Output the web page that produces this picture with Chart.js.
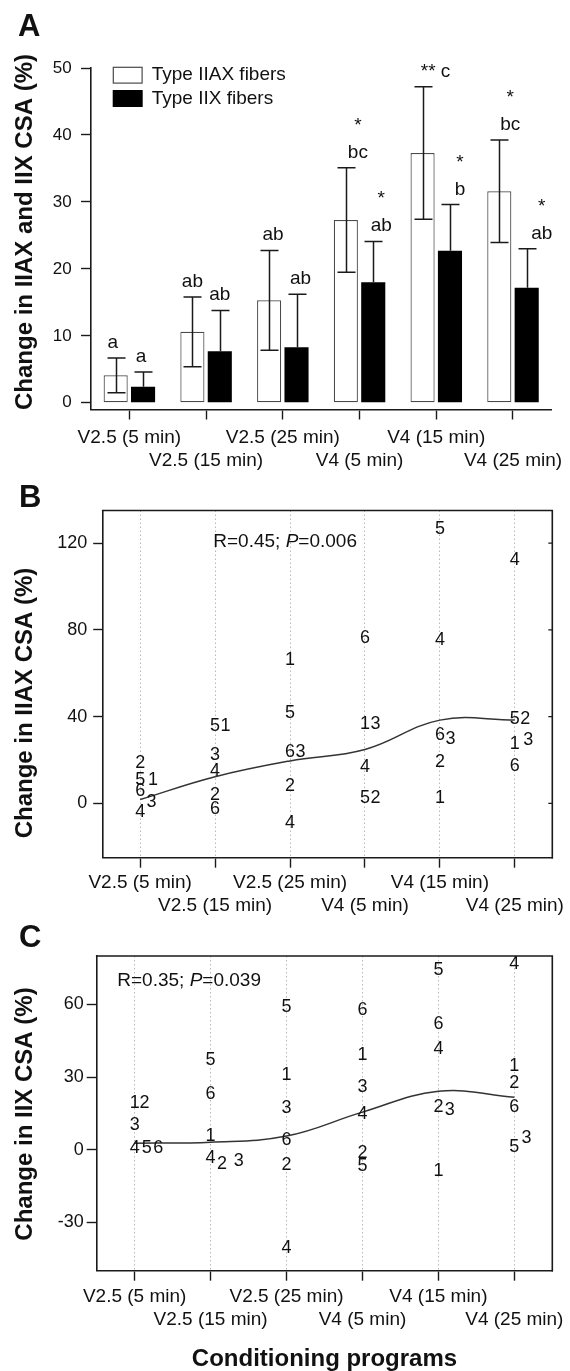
<!DOCTYPE html>
<html><head><meta charset="utf-8">
<script src="https://cdn.jsdelivr.net/npm/chart.js@4.4.1/dist/chart.umd.min.js"></script>
<style>
html,body{margin:0;padding:0;background:#fff;}
#wrap{position:relative;width:570px;height:1371px;overflow:hidden;background:#fff;}
.panel{position:absolute;left:0;width:570px;}
</style></head><body>
<div id="wrap">
  <div class="panel" style="top:0;height:480px"><canvas id="cA"></canvas></div>
  <div class="panel" style="top:480px;height:440px"><canvas id="cB"></canvas></div>
  <div class="panel" style="top:920px;height:451px"><canvas id="cC"></canvas></div>
</div>
<script>
// ---------------- DATA ----------------
const conditions = ['V2.5 (5 min)', 'V2.5 (15 min)', 'V2.5 (25 min)', 'V4 (5 min)', 'V4 (15 min)', 'V4 (25 min)'];

// Panel A: mean change in CSA (%) and SD
const iiaxMean = [4.1, 10.6, 15.3, 27.3, 37.3, 31.6];
const iiaxSD   = [2.6, 5.2, 7.45, 7.8, 9.9, 7.65];
const iixMean  = [2.4, 7.7, 8.3, 18.0, 22.7, 17.2];
const iixSD    = [2.2, 6.1, 7.9, 6.1, 6.9, 5.8];
const iiaxMarks = [['a'], ['ab'], ['ab'], ['*', 'bc'], ['** c'], ['*', 'bc']];
const iixMarks  = [['a'], ['ab'], ['ab'], ['*', 'ab'], ['*', 'b'], ['*', 'ab']];
const yTicksA = [0, 10, 20, 30, 40, 50];

// Panel B: individual change in IIAX CSA (%) by subject
const subjects = ['1', '2', '3', '4', '5', '6'];
const iiaxS1 = [10.6, 35.6, 66.3, 36.5, 2.3, 27.2];
const iiaxS2 = [18.6, 3.8, 8.0, 2.6, 18.9, 39.1];
const iiaxS3 = [0.5, 22.2, 23.5, 36.5, 29.5, 29.1];
const iiaxS4 = [-4.1, 15.0, -8.9, 16.9, 75.2, 112.0];
const iiaxS5 = [10.6, 35.6, 41.7, 2.6, 126.6, 39.1];
const iiaxS6 = [5.5, -2.8, 23.5, 76.0, 31.5, 17.3];
const iiaxSmooth = [1.8, 12.3, 19.6, 24.9, 38.4, 38.4];
const yTicksB = [0, 40, 80, 120];
const statsB = ['R=0.45; ', 'P', '=0.006'];

// Panel C: individual change in IIX CSA (%) by subject
const iixS1 = [19.3, 5.6, 30.7, 39.2, -8.8, 34.4];
const iixS2 = [19.3, -6.1, -6.2, -1.4, 17.6, 27.5];
const iixS3 = [10.3, -4.8, 17.3, 25.8, 16.5, 4.8];
const iixS4 = [0.8, -3.3, -40.5, 14.9, 41.7, 76.8];
const iixS5 = [0.8, 37.2, 58.9, -6.8, 74.0, 1.1];
const iixS6 = [0.8, 23.1, 3.8, 57.8, 51.7, 17.6];
const iixSmooth = [2.7, 3.1, 5.6, 15.5, 24.1, 21.7];
const yTicksC = [-30, 0, 30, 60];
const statsC = ['R=0.35; ', 'P', '=0.039'];

// ---------------- LAYOUT / STYLE (not data) ----------------
// side-by-side nudges of overlapping subject labels, in category units
const nudgeB = [
  [0.17, 0.14, 0, 0, 0, 0],
  [0, 0, 0, 0.14, 0, 0.14],
  [0.15, 0, 0.14, 0.14, 0.14, 0.18],
  [0, 0, 0, 0, 0, 0],
  [0, 0, 0, 0, 0, 0],
  [0, 0, 0, 0, 0, 0]
];
const nudgeC = [
  [0, 0, 0, 0, 0, 0],
  [0.13, 0.15, 0, 0, 0, 0],
  [0, 0.37, 0, 0, 0.15, 0.16],
  [0, 0, 0, 0, 0, 0],
  [0.16, 0, 0, 0, 0, 0],
  [0.31, 0, 0, 0, 0, 0]
];
const markDxA = [[-3, 0, 4, 12, 13, 11], [-2, 0, 4, 8, 10, 15]];

const FONT = "'Liberation Sans', Arial, Helvetica, sans-serif";
const INK = '#1a1a1a';
const TXT = '#111';
Chart.defaults.font.family = FONT;
Chart.defaults.color = TXT;

const stagger = (i) => (i % 2 === 0 ? [conditions[i], ''] : ['', conditions[i]]);

// ---------------- PLUGINS ----------------
const errorBars = {
  id: 'errorBars',
  afterDatasetsDraw(chart) {
    const ctx = chart.ctx, ys = chart.scales.y;
    chart.data.datasets.forEach((ds, di) => {
      if (!ds.sd) return;
      const meta = chart.getDatasetMeta(di);
      meta.data.forEach((bar, i) => {
        const m = ds.data[i], e = ds.sd[i];
        const yt = ys.getPixelForValue(m + e), yb = ys.getPixelForValue(m - e);
        const ym = ys.getPixelForValue(m);
        const x = Math.round(bar.x) + 0.5;
        ctx.save();
        ctx.strokeStyle = INK; ctx.lineWidth = 1.5;
        ctx.beginPath();
        ctx.moveTo(x - 9, yt); ctx.lineTo(x + 9, yt);
        if (ds.lowerWhisker) {
          ctx.moveTo(x, yt); ctx.lineTo(x, yb);
          ctx.moveTo(x - 9, yb); ctx.lineTo(x + 9, yb);
        } else {
          ctx.moveTo(x, yt); ctx.lineTo(x, ym);
        }
        ctx.stroke();
        if (ds.marks) {
          const lines = ds.marks[i];
          ctx.fillStyle = TXT; ctx.font = `19px ${FONT}`;
          ctx.textAlign = 'center'; ctx.textBaseline = 'alphabetic';
          const mx = bar.x + (ds.markDx ? ds.markDx[i] : 0);
          for (let k = 0; k < lines.length; k++) {
            const fromBottom = lines.length - 1 - k;
            ctx.fillText(lines[k], mx, yt - 10 - fromBottom * 27);
          }
        }
        ctx.restore();
      });
    });
  }
};

const digitLabels = {
  id: 'digitLabels',
  afterDatasetsDraw(chart) {
    const ctx = chart.ctx;
    chart.data.datasets.forEach((ds, di) => {
      if (!ds.digit) return;
      const meta = chart.getDatasetMeta(di);
      ctx.save();
      ctx.fillStyle = TXT; ctx.font = `18px ${FONT}`;
      ctx.textAlign = 'center'; ctx.textBaseline = 'middle';
      meta.data.forEach(el => ctx.fillText(ds.digit, el.x, el.y));
      ctx.restore();
    });
  }
};

const panelDeco = {
  id: 'panelDeco',
  afterDraw(chart, args, o) {
    const ctx = chart.ctx, ca = chart.chartArea;
    ctx.save();
    ctx.fillStyle = TXT;
    if (o.letter) {
      ctx.font = `bold 31px ${FONT}`; ctx.textAlign = 'left'; ctx.textBaseline = 'alphabetic';
      ctx.fillText(o.letter.text, o.letter.x, o.letter.y);
    }
    if (o.yTitle) {
      ctx.save();
      ctx.translate(o.yTitle.x, o.yTitle.y); ctx.rotate(-Math.PI / 2);
      ctx.font = `bold 24px ${FONT}`; ctx.textAlign = 'center'; ctx.textBaseline = 'middle';
      ctx.fillText(o.yTitle.text, 0, 0);
      ctx.restore();
    }
    if (o.frame) {
      ctx.strokeStyle = INK; ctx.lineWidth = 1.6;
      ctx.beginPath();
      ctx.moveTo(ca.left - 0.8, ca.top); ctx.lineTo(ca.right, ca.top); ctx.lineTo(ca.right, ca.bottom + 0.8);
      ctx.stroke();
    }
    if (o.rightTicks) {
      ctx.strokeStyle = INK; ctx.lineWidth = 1.2;
      ctx.beginPath();
      o.rightTicks.forEach(v => {
        const y = chart.scales.y.getPixelForValue(v);
        ctx.moveTo(ca.right - 4, y); ctx.lineTo(ca.right, y);
      });
      ctx.stroke();
    }
    if (o.legend) {
      const L = o.legend;
      chart.data.datasets.forEach((ds, i) => {
        const bx = ca.left + L.dx, by = ca.top + L.dy + i * L.step;
        ctx.fillStyle = ds.backgroundColor;
        ctx.fillRect(bx, by, L.w, L.h);
        if (ds.borderWidth) {
          ctx.strokeStyle = ds.borderColor; ctx.lineWidth = 1.2;
          ctx.strokeRect(bx + 0.6, by + 0.6, L.w - 1.2, L.h - 1.2);
        }
        ctx.fillStyle = TXT; ctx.font = `19px ${FONT}`;
        ctx.textAlign = 'left'; ctx.textBaseline = 'middle';
        ctx.fillText(ds.label, bx + L.w + L.gap, by + L.h / 2);
      });
    }
    if (o.stats) {
      const S = o.stats;
      let x = chart.scales.x.getPixelForValue(S.x);
      const y = chart.scales.y.getPixelForValue(S.y);
      ctx.fillStyle = TXT; ctx.textAlign = 'left'; ctx.textBaseline = 'middle';
      S.parts.forEach((p, k) => {
        ctx.font = (k === 1 ? 'italic ' : '') + `19px ${FONT}`;
        ctx.fillText(p, x, y);
        x += ctx.measureText(p).width;
      });
    }
    ctx.restore();
  }
};

const commonOpts = {
  responsive: true, maintainAspectRatio: false, animation: false, devicePixelRatio: 1,
  events: []
};

// ---------------- PANEL A ----------------
new Chart(document.getElementById('cA'), {
  type: 'bar',
  data: {
    labels: conditions,
    datasets: [
      { label: 'Type IIAX fibers', data: iiaxMean, sd: iiaxSD, lowerWhisker: true, marks: iiaxMarks, markDx: markDxA[0],
        backgroundColor: '#ffffff', borderColor: '#4a4a4a', borderWidth: 1.2, borderSkipped: false,
        categoryPercentage: 0.714, barPercentage: 0.88 },
      { label: 'Type IIX fibers', data: iixMean, sd: iixSD, lowerWhisker: false, marks: iixMarks, markDx: markDxA[1],
        backgroundColor: '#000000', borderColor: '#000000', borderWidth: 0, borderSkipped: false,
        categoryPercentage: 0.714, barPercentage: 0.88 }
    ]
  },
  options: Object.assign({}, commonOpts, {
    layout: { padding: { top: 68, right: 12, bottom: 0, left: 0 } },
    plugins: {
      legend: { display: false }, tooltip: { enabled: false },
      panelDeco: {
        letter: { text: 'A', x: 18, y: 36 },
        yTitle: { text: 'Change in IIAX and IIX CSA (%)', x: 25, y: 232 },
        legend: { dx: 21.7, dy: -1.3, step: 23.3, w: 30, h: 17, gap: 9 }
      }
    },
    scales: {
      x: {
        type: 'category', offset: true,
        grid: { offset: false, drawOnChartArea: false, drawTicks: true, tickLength: 10, tickColor: INK, tickWidth: 1.4 },
        border: { display: true, color: INK, width: 1.6 },
        ticks: { autoSkip: false, maxRotation: 0, minRotation: 0, padding: 6.9, color: TXT,
                 font: { size: 19, lineHeight: '23px' }, callback: (v, i) => stagger(i) },
        afterFit: s => { s.height = 70.5; }
      },
      y: {
        min: -1, max: 50,
        afterBuildTicks: s => { s.ticks = yTicksA.map(v => ({ value: v })); },
        grid: { drawOnChartArea: false, drawTicks: true, tickLength: 10, tickColor: INK, tickWidth: 1.4 },
        border: { display: true, color: INK, width: 1.6 },
        ticks: { padding: 9.3, color: TXT, font: { size: 17 } },
        afterFit: s => { s.width = 91; }
      }
    }
  }),
  plugins: [errorBars, panelDeco]
});

// ---------------- PANELS B & C ----------------
function scatterPanel(canvasId, subjVals, nudges, smooth, yMin, yMax, yTicks, stats, deco, geo) {
  const datasets = subjVals.map((vals, s) => ({
    type: 'scatter', label: 'Subject ' + subjects[s], digit: subjects[s],
    data: vals.map((v, i) => ({ x: i + nudges[s][i], y: v })),
    pointRadius: 0, pointHoverRadius: 0
  }));
  datasets.push({
    type: 'line', label: 'Smoothed trend',
    data: smooth.map((v, i) => ({ x: i, y: v })),
    borderColor: '#333333', borderWidth: 1.5, pointRadius: 0, tension: 0.4, fill: false
  });
  const xScale = {
    type: 'linear', min: -0.5, max: 5.5,
    afterBuildTicks: s => { s.ticks = conditions.map((c, i) => ({ value: i })); },
    grid: { display: true, drawOnChartArea: true, color: '#b8b8b8', lineWidth: 1,
            drawTicks: true, tickLength: 10, tickColor: INK, tickWidth: 1.4 },
    border: { display: true, color: INK, width: 1.6, dash: [1.5, 2.5] },
    ticks: { autoSkip: false, maxRotation: 0, minRotation: 0, padding: geo.xPad, color: TXT,
             font: { size: 19, lineHeight: '23px' }, callback: (v, i) => stagger(i) },
    afterFit: s => { s.height = geo.xHeight; }
  };
  if (geo.xTitle) {
    xScale.title = { display: true, text: geo.xTitle, color: TXT,
                     font: { size: 24, weight: 'bold', lineHeight: 1 }, padding: { top: 0, bottom: 0 } };
  }
  new Chart(document.getElementById(canvasId), {
    type: 'scatter',
    data: { datasets },
    options: Object.assign({}, commonOpts, {
      layout: { padding: { top: geo.top, right: geo.right, bottom: 0, left: 0 } },
      plugins: {
        legend: { display: false }, tooltip: { enabled: false },
        panelDeco: Object.assign({ frame: true, stats: { parts: stats.parts, x: stats.x, y: stats.y } }, deco)
      },
      scales: {
        x: xScale,
        y: {
          min: yMin, max: yMax,
          afterBuildTicks: s => { s.ticks = yTicks.map(v => ({ value: v })); },
          grid: { drawOnChartArea: false, drawTicks: true, tickLength: geo.yTick, tickColor: INK, tickWidth: 1.4 },
          border: { display: true, color: INK, width: 1.6 },
          ticks: { padding: geo.yPad, color: TXT, font: { size: 18 } },
          afterFit: s => { s.width = geo.left; }
        }
      }
    }),
    plugins: [digitLabels, panelDeco]
  });
}

scatterPanel('cB',
  [iiaxS1, iiaxS2, iiaxS3, iiaxS4, iiaxS5, iiaxS6], nudgeB, iiaxSmooth, -25, 135, yTicksB,
  { parts: statsB, x: 0.976, y: 120.5 },
  { letter: { text: 'B', x: 19, y: 27 },
    yTitle: { text: 'Change in IIAX CSA (%)', x: 25, y: 223 },
    rightTicks: yTicksB },
  { top: 30.5, right: 17.7, left: 102.7, xHeight: 62.3, xPad: 3.2, yTick: 9.5, yPad: 5.9 });

scatterPanel('cC',
  [iixS1, iixS2, iixS3, iixS4, iixS5, iixS6], nudgeC, iixSmooth, -50, 80, yTicksC,
  { parts: statsC, x: -0.229, y: 69.6 },
  { letter: { text: 'C', x: 19, y: 27 },
    yTitle: { text: 'Change in IIX CSA (%)', x: 25, y: 194 } },
  { top: 36, right: 17.7, left: 96.7, xHeight: 100.3, xPad: 4.5, yTick: 10, yPad: 3,
    xTitle: 'Conditioning programs' });
</script>
</body></html>
